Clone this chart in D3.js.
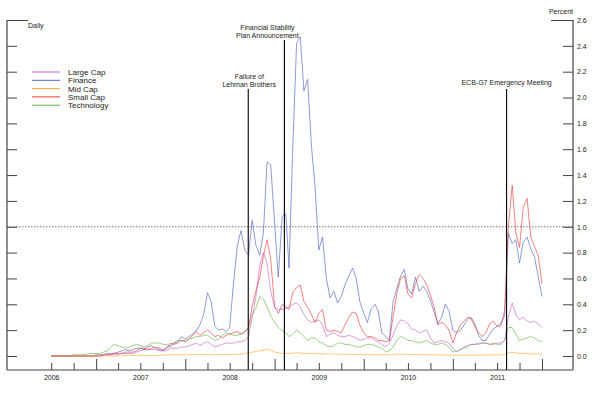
<!DOCTYPE html>
<html><head><meta charset="utf-8">
<script src="https://cdn.jsdelivr.net/npm/d3@7"></script>
<style>
html,body{margin:0;padding:0;background:#fff;}
svg{display:block;font-family:"Liberation Sans",Arial,sans-serif;}
</style></head><body>
<svg id="chart" width="600" height="394"></svg>
<script>
// ---------------- DATA ----------------
const seriesNames = ["Large Cap", "Finance", "Mid Cap", "Small Cap", "Technology"];
// semi-monthly observation dates: 1st and 16th of each month, Jul 2006 .. Dec 2011, plus 1 Jan 2012
const dates = [];
for (let y = 2006; y <= 2011; y++) {
  for (let m = (y === 2006 ? 6 : 0); m < 12; m++) {
    dates.push(new Date(Date.UTC(y, m, 1)));
    dates.push(new Date(Date.UTC(y, m, 16)));
  }
}
dates.push(new Date(Date.UTC(2012, 0, 1)));

const largeCap = [0,0,0,0,0,0,0,0,0,0,0,0,0,
  0,0.01,0.01,0.01,0.01,0.01,0.02,0.02,0.02,0.02,0.03,0.04,
  0.05,0.05,0.05,0.05,0.04,0.04,0.04,0.06,0.06,0.06,0.07,0.07,
  0.08,0.09,0.10,0.08,0.10,0.11,0.09,0.07,0.08,0.09,0.10,0.10,
  0.10,0.11,0.11,0.12,0.15,0.30,0.45,0.70,0.80,0.72,0.50,0.38,
  0.36,0.36,0.37,0.38,0.40,0.41,0.38,0.32,0.28,0.26,0.27,0.28,
  0.24,0.15,0.17,0.18,0.16,0.15,0.15,0.16,0.15,0.14,0.12,0.13,
  0.14,0.14,0.12,0.11,0.09,0.07,0.10,0.16,0.23,0.28,0.27,0.25,
  0.21,0.20,0.18,0.19,0.20,0.14,0.10,0.11,0.12,0.11,0.10,0.06,
  0.03,0.05,0.07,0.08,0.09,0.09,0.10,0.10,0.10,0.09,0.09,0.10,
  0.10,0.12,0.30,0.41,0.32,0.28,0.30,0.27,0.26,0.27,0.25,0.22];

const finance = [0,0,0,0,0,0,0,0,0,0,0,0,0.01,
  0.01,0.01,0.02,0.02,0.02,0.03,0.04,0.05,0.04,0.05,0.06,0.06,
  0.05,0.07,0.08,0.06,0.05,0.04,0.06,0.08,0.10,0.11,0.15,0.13,
  0.15,0.17,0.20,0.24,0.32,0.49,0.42,0.23,0.20,0.21,0.19,0.22,
  0.55,0.85,0.97,0.82,0.78,1.05,0.86,0.78,0.95,1.50,1.48,1.03,
  0.61,1.08,1.10,0.68,1.60,2.42,2.47,2.05,2.14,1.62,1.30,0.82,
  0.92,0.60,0.45,0.50,0.41,0.46,0.55,0.62,0.68,0.60,0.42,0.33,
  0.26,0.37,0.40,0.35,0.18,0.15,0.12,0.42,0.52,0.62,0.67,0.52,
  0.48,0.61,0.50,0.54,0.50,0.43,0.34,0.25,0.30,0.40,0.35,0.20,
  0.18,0.20,0.24,0.28,0.30,0.25,0.16,0.12,0.12,0.17,0.21,0.23,
  0.25,0.31,0.95,0.87,0.90,0.72,0.88,0.92,0.83,0.77,0.62,0.46];

const midCap = [0,0,0,0,0,0,0,0,0,0,0,0,0,
  0,0,0,0,0,0,0,0.005,0.005,0.005,0.005,0.005,
  0.005,0.005,0.005,0.005,0.005,0.006,0.008,0.01,0.01,0.01,0.01,0.01,
  0.01,0.01,0.012,0.012,0.012,0.012,0.01,0.01,0.012,0.012,0.012,0.012,
  0.012,0.013,0.015,0.018,0.025,0.03,0.035,0.04,0.045,0.055,0.045,0.03,
  0.025,0.02,0.02,0.02,0.022,0.025,0.022,0.02,0.02,0.018,0.018,0.02,
  0.018,0.015,0.015,0.015,0.014,0.014,0.013,0.012,0.012,0.012,0.012,0.01,
  0.01,0.01,0.01,0.01,0.01,0.01,0.01,0.012,0.015,0.015,0.013,0.012,
  0.012,0.011,0.01,0.01,0.01,0.01,0.008,0.008,0.008,0.007,0.007,0.006,
  0.006,0.006,0.006,0.006,0.006,0.007,0.007,0.007,0.008,0.008,0.008,0.008,
  0.009,0.01,0.025,0.03,0.025,0.02,0.02,0.018,0.018,0.016,0.015,0.015];

const smallCap = [0,0,0,0,0,0,0,0,0,0,0,0,0,
  0,0.01,0.01,0.01,0.02,0.02,0.02,0.03,0.03,0.03,0.04,0.06,
  0.06,0.05,0.06,0.07,0.06,0.05,0.06,0.10,0.09,0.10,0.12,0.11,
  0.13,0.16,0.19,0.16,0.18,0.20,0.18,0.15,0.16,0.14,0.16,0.17,
  0.18,0.19,0.17,0.19,0.22,0.38,0.50,0.61,0.77,0.90,0.75,0.38,
  0.33,0.40,0.38,0.36,0.49,0.53,0.55,0.42,0.38,0.32,0.26,0.33,
  0.36,0.20,0.19,0.20,0.19,0.18,0.24,0.30,0.34,0.33,0.24,0.18,
  0.15,0.15,0.14,0.12,0.12,0.11,0.12,0.30,0.48,0.60,0.62,0.48,
  0.45,0.56,0.63,0.60,0.55,0.47,0.38,0.24,0.26,0.24,0.20,0.10,
  0.18,0.24,0.27,0.30,0.29,0.23,0.18,0.15,0.18,0.25,0.27,0.23,
  0.23,0.35,1.00,1.32,0.95,0.84,1.15,1.22,0.92,0.85,0.78,0.56];

const technology = [0,0,0,0,0,0,0.01,0.01,0.01,0.01,0.02,0.02,0.02,
  0.02,0.03,0.04,0.07,0.09,0.08,0.07,0.06,0.07,0.08,0.09,0.08,
  0.07,0.08,0.10,0.10,0.10,0.09,0.09,0.07,0.10,0.12,0.12,0.12,
  0.13,0.14,0.15,0.15,0.16,0.16,0.14,0.12,0.13,0.16,0.18,0.17,
  0.16,0.16,0.17,0.18,0.22,0.32,0.37,0.46,0.44,0.38,0.31,0.26,
  0.22,0.20,0.18,0.15,0.17,0.20,0.18,0.15,0.12,0.14,0.14,0.11,
  0.10,0.08,0.07,0.08,0.10,0.10,0.09,0.09,0.08,0.07,0.07,0.08,
  0.09,0.09,0.08,0.07,0.06,0.03,0.04,0.07,0.12,0.15,0.14,0.12,
  0.12,0.11,0.10,0.11,0.12,0.10,0.09,0.09,0.10,0.09,0.07,0.03,
  0.04,0.05,0.06,0.07,0.09,0.09,0.09,0.10,0.10,0.09,0.10,0.09,
  0.09,0.12,0.22,0.22,0.17,0.12,0.13,0.14,0.15,0.14,0.12,0.11];

const yTicks = [0, 0.2, 0.4, 0.6, 0.8, 1.0, 1.2, 1.4, 1.6, 1.8, 2.0, 2.2, 2.4, 2.6];
const yearLabels = ["2006", "2007", "2008", "2009", "2010", "2011"];
const eventDates = ["2008-09-15", "2009-02-10", "2011-08-09"];
const eventLabels = [["Failure of", "Lehman Brothers"], ["Financial Stability", "Plan Announcement"], ["ECB-G7 Emergency Meeting"]];

// ---------------- STYLE / LAYOUT ----------------
const colors = {"Large Cap": "#c865c8", "Finance": "#4f63c2", "Mid Cap": "#ffab2e", "Small Cap": "#ee3b3b", "Technology": "#62b845"};
const drawOrder = ["Technology", "Large Cap", "Finance", "Small Cap", "Mid Cap"];
const L = 7, R = 573, B = 370, T = 20;
const eventLayout = [{dx: 1, top: 89, y0: 78.5}, {dx: -17, top: 40, y0: 29.5}, {dx: 0, top: 89, y0: 84.5}];

const svg = d3.select("#chart");
const parse = d3.utcParse("%Y-%m-%d");
const x = d3.scaleUtc().domain([new Date(Date.UTC(2006,0,1)), new Date(Date.UTC(2012,0,1))]).range([L, 542]);
const y = d3.scaleLinear().domain([0, 2.6]).range([356, T]);
const textCol = "#222";
const axisCol = "#444";

const valuesBy = {"Large Cap": largeCap, "Finance": finance, "Mid Cap": midCap, "Small Cap": smallCap, "Technology": technology};

// 1.0 reference line
svg.append("line").attr("x1", L).attr("x2", R).attr("y1", y(1)).attr("y2", y(1))
  .attr("stroke", "#777").attr("stroke-width", 1).attr("stroke-dasharray", "1.5,1.5");

// series
const line = d3.line().x((d, i) => x(dates[i])).y(d => y(d));
drawOrder.forEach(name => {
  svg.append("path").datum(valuesBy[name]).attr("d", line)
    .attr("fill", "none").attr("stroke", colors[name]).attr("stroke-width", 0.75)
    .attr("stroke-opacity", 0.85).attr("stroke-linejoin", "round");
});

// event lines and labels
eventDates.forEach((ds, k) => {
  const xd = x(parse(ds));
  const lay = eventLayout[k];
  svg.append("line").attr("x1", xd).attr("x2", xd).attr("y1", lay.top).attr("y2", B)
    .attr("stroke", "#000").attr("stroke-width", 1.1);
  eventLabels[k].forEach((t, j) => {
    svg.append("text").attr("x", xd + lay.dx).attr("y", lay.y0 + j * 8.2)
      .attr("text-anchor", "middle").attr("font-size", 7).attr("fill", textCol).text(t);
  });
});

// bottom axis
const quarters = d3.utcMonth.every(3).range(new Date(Date.UTC(2006,6,1)), new Date(Date.UTC(2012,0,2)));
const majors = quarters.filter(d => d.getUTCMonth() === 0);
const minors = quarters.filter(d => d.getUTCMonth() !== 0);
const gMin = svg.append("g").attr("transform", `translate(0,${B})`)
  .call(d3.axisBottom(x).tickValues(minors).tickSize(-7).tickFormat(""));
const gMaj = svg.append("g").attr("transform", `translate(0,${B})`)
  .call(d3.axisBottom(x).tickValues(majors).tickSize(-11).tickFormat(""));
const gLab = svg.append("g").attr("transform", `translate(0,${B})`)
  .call(d3.axisBottom(x).tickValues(yearLabels.map(s => new Date(Date.UTC(+s, 6, 1))))
    .tickSize(0).tickPadding(5).tickFormat(d3.utcFormat("%Y")));
[gMin, gMaj, gLab].forEach(g => {
  g.select(".domain").remove();
  g.selectAll("line").attr("stroke", axisCol);
  g.selectAll("text").attr("font-size", 7).attr("fill", textCol).attr("font-family", null);
});
svg.append("line").attr("x1", L).attr("x2", R).attr("y1", B).attr("y2", B).attr("stroke", axisCol).attr("stroke-width", 1.2);

// left axis
const gL = svg.append("g").attr("transform", `translate(${L},0)`)
  .call(d3.axisRight(y).tickValues(yTicks).tickSize(10).tickFormat(""));
gL.select(".domain").remove();
gL.selectAll(".tick line").attr("stroke", axisCol).attr("x2", d => d === 2.6 ? 21 : 10);
svg.append("line").attr("x1", L).attr("x2", L).attr("y1", T).attr("y2", B).attr("stroke", axisCol).attr("stroke-width", 1.2);

// right axis
const gR = svg.append("g").attr("transform", `translate(${R},0)`)
  .call(d3.axisRight(y).tickValues(yTicks).tickSize(-10).tickPadding(4).tickFormat(d3.format(".1f")));
gR.select(".domain").remove();
gR.selectAll(".tick line").attr("stroke", axisCol).attr("x2", d => d === 2.6 ? -22 : -10);
gR.selectAll("text").attr("font-size", 7).attr("fill", textCol).attr("font-family", null);
svg.append("line").attr("x1", R).attr("x2", R).attr("y1", T).attr("y2", B).attr("stroke", axisCol).attr("stroke-width", 1.2);

// unit labels
svg.append("text").attr("x", 28).attr("y", 27.5).attr("font-size", 7).attr("fill", textCol).text("Daily");
svg.append("text").attr("x", R).attr("y", 14).attr("text-anchor", "end").attr("font-size", 7).attr("fill", textCol).text("Percent");

// legend
seriesNames.forEach((name, i) => {
  const ly = 72 + i * 8.3;
  svg.append("line").attr("x1", 32).attr("x2", 60).attr("y1", ly).attr("y2", ly)
    .attr("stroke", colors[name]).attr("stroke-width", 1);
  svg.append("text").attr("x", 68).attr("y", ly + 2.9).attr("font-size", 8).attr("fill", textCol).text(name);
});
</script>
</body></html>
